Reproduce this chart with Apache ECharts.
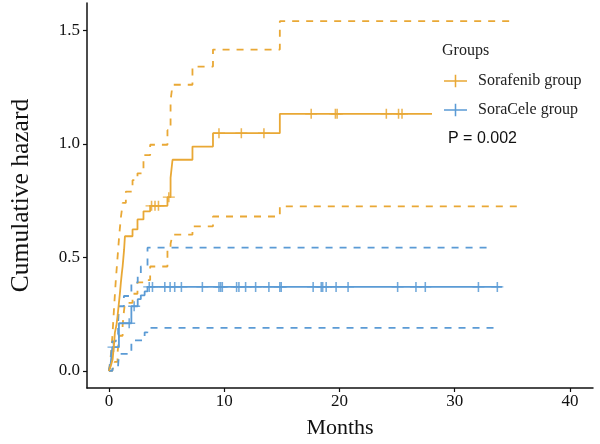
<!DOCTYPE html>
<html><head><meta charset="utf-8">
<script src="https://cdn.jsdelivr.net/npm/echarts@6/dist/echarts.min.js"></script>
<style>html,body{margin:0;padding:0;background:#fff}#c{width:600px;height:444px}</style>
</head><body><div id="c"></div>
<script>
// ---- data (time in months, cumulative hazard) ----
const xTicks = [0, 10, 20, 30, 40];
const yTicks = [0, 0.5, 1.0, 1.5];
const groupNames = ['Sorafenib group', 'SoraCele group'];

const sorafenibEst = [[0,0],[0.15,0.02],[0.32,0.05],[0.45,0.12],[0.52,0.17],[0.65,0.2],[0.75,0.24],[0.89,0.31],[0.97,0.35],[1.04,0.39],[1.12,0.43],[1.19,0.46],[1.26,0.5],[1.32,0.535],[1.39,0.593],[2.05,0.623],[2.48,0.667],[3.0,0.703],[3.58,0.727],[5.08,0.765],[5.35,0.85],[5.52,0.93],[7.25,0.988],[9.03,1.047],[14.83,1.132],[28.03,1.132]];
const sorafenibUpper = [[0,0],[0.15,0.06],[0.3,0.15],[0.45,0.28],[0.6,0.4],[0.75,0.5],[0.9,0.6],[1.05,0.68],[1.2,0.74],[1.47,0.79],[2.05,0.84],[2.48,0.87],[3.0,0.95],[3.58,0.996],[5.08,1.06],[5.35,1.19],[5.52,1.26],[7.25,1.34],[9.03,1.415],[14.83,1.54],[35.15,1.54]];
const sorafenibLower = [[0,0],[0.3,0.01],[0.5,0.04],[0.75,0.08],[0.9,0.155],[1.19,0.2],[1.3,0.26],[1.39,0.3],[2.05,0.34],[2.48,0.39],[3.0,0.40],[3.58,0.46],[5.08,0.535],[5.35,0.56],[5.52,0.6],[7.25,0.637],[9.03,0.68],[14.83,0.725],[35.5,0.725]];
const sorafenibCensor = [3.7, 4.0, 4.3, 5.2, 9.55, 11.49, 13.45, 17.55, 19.65, 19.8, 24.07, 25.13, 25.43];

const soraceleEst = [[0,0],[0.15,0.03],[0.3,0.105],[0.87,0.21],[1.95,0.285],[2.5,0.316],[2.77,0.333],[3.1,0.35],[3.35,0.37],[34.1,0.37]];
const soraceleUpper = [[0,0],[0.15,0.04],[0.3,0.13],[0.6,0.16],[0.8,0.21],[0.87,0.285],[1.3,0.33],[1.95,0.39],[2.5,0.42],[2.77,0.46],[3.35,0.543],[33.2,0.543]];
const soraceleLower = [[0,0],[0.3,0.01],[0.8,0.025],[0.87,0.075],[1.95,0.135],[3.1,0.17],[3.35,0.19],[33.8,0.19]];
const soraceleCensor = [0.4, 1.76, 2.19, 3.5, 3.78, 4.85, 5.31, 5.71, 6.29, 8.11, 9.55, 9.7, 9.84, 11.08, 11.28, 11.86, 12.73, 13.88, 14.83, 14.95, 17.72, 18.42, 18.55, 18.85, 19.71, 20.75, 25.05, 26.64, 27.45, 32.06, 33.7];

const pText = 'P = 0.002';

// ---- styles ----
const ORANGE = '#E9A835';
const BLUE = '#5B9BD5';
const SERIF = 'Liberation Serif';
const PLUS = 'path://M8.7,0 L11.3,0 L11.3,8.7 L20,8.7 L20,11.3 L11.3,11.3 L11.3,20 L8.7,20 L8.7,11.3 L0,11.3 L0,8.7 L8.7,8.7 Z';
const LEGEND_ICON = 'path://M0,9 L30,9 L30,11 L0,11 Z M14,2 L16,2 L16,18 L14,18 Z';

function valueAt(curve, t) {
  let v = curve[0][1];
  for (const p of curve) { if (p[0] <= t) v = p[1]; }
  return v;
}

function stepLine(name, data, color, dashed) {
  return {
    name, type: 'line', step: 'end', data, showSymbol: false, silent: true,
    lineStyle: { color, width: 1.8, type: dashed ? [7, 7] : 'solid' },
    itemStyle: { color }
  };
}
function censor(name, times, curve, color) {
  return {
    name, type: 'scatter', data: times.map(t => [t, valueAt(curve, t)]),
    symbol: PLUS, symbolSize: [12, 10], itemStyle: { color, opacity: 0.85 }, silent: true
  };
}

const chart = echarts.init(document.getElementById('c'), null, { renderer: 'canvas' });
chart.setOption({
  animation: false,
  backgroundColor: '#fff',
  grid: { left: 86, top: 3, width: 507, height: 386, containLabel: false },
  xAxis: {
    type: 'value', min: -1.9, max: 42,
    name: 'Months', nameLocation: 'middle', nameGap: 29,
    nameTextStyle: { fontFamily: SERIF, fontSize: 22, color: '#111' },
    axisLine: { show: true, onZero: false, lineStyle: { color: '#111', width: 1.5 } },
    axisTick: { show: true, length: 4, lineStyle: { color: '#111', width: 1.2 }, customValues: xTicks },
    axisLabel: { customValues: xTicks, fontFamily: SERIF, fontSize: 17, color: '#111', margin: 5 },
    splitLine: { show: false }
  },
  yAxis: {
    type: 'value', min: -0.075, max: 1.62,
    name: 'Cumulative hazard', nameLocation: 'middle', nameGap: 53, nameRotate: 90,
    nameTextStyle: { fontFamily: SERIF, fontSize: 25.5, color: '#111' },
    axisLine: { show: true, onZero: false, lineStyle: { color: '#111', width: 1.5 } },
    axisTick: { show: true, length: 4, lineStyle: { color: '#111', width: 1.2 }, customValues: yTicks },
    axisLabel: { customValues: yTicks, formatter: v => v.toFixed(1), fontFamily: SERIF, fontSize: 17, color: '#111', margin: 7 },
    splitLine: { show: false }
  },
  legend: {
    orient: 'vertical', left: 444, top: 73, padding: 0, itemWidth: 23, itemHeight: 14, itemGap: 13,
    data: [
      { name: groupNames[0], icon: LEGEND_ICON, itemStyle: { color: ORANGE } },
      { name: groupNames[1], icon: LEGEND_ICON, itemStyle: { color: BLUE } }
    ],
    textStyle: { fontFamily: SERIF, fontSize: 16, color: '#222', padding: [0, 0, 0, 6] },
    selectedMode: false
  },
  graphic: [
    { type: 'text', left: 442, top: 43, style: { text: 'Groups', font: '16px "Liberation Serif"', fill: '#222' } },
    { type: 'text', left: 448, top: 131, style: { text: pText, font: '16px "Liberation Sans"', fill: '#111' } }
  ],
  series: [
    stepLine('SorafenibUpper', sorafenibUpper, ORANGE, true),
    stepLine('SorafenibLower', sorafenibLower, ORANGE, true),
    stepLine('SoraCeleUpper', soraceleUpper, BLUE, true),
    stepLine('SoraCeleLower', soraceleLower, BLUE, true),
    stepLine(groupNames[1], soraceleEst, BLUE, false),
    stepLine(groupNames[0], sorafenibEst, ORANGE, false),
    censor(groupNames[1], soraceleCensor, soraceleEst, BLUE),
    censor(groupNames[0], sorafenibCensor, sorafenibEst, ORANGE)
  ]
});
</script>
</body></html>
